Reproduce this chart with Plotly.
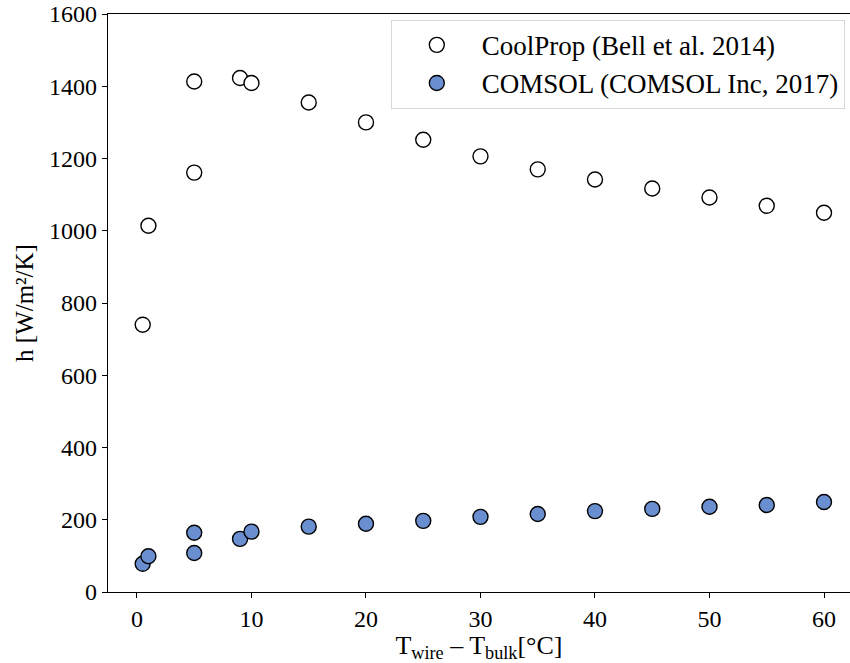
import plotly.graph_objects as go

dT = [0.5, 1, 5, 5, 9, 10, 15, 20, 25, 30, 35, 40, 45, 50, 55, 60]
h_coolprop = [740, 1014, 1161, 1413, 1423, 1409, 1355, 1300, 1252, 1206, 1170, 1142, 1117, 1092, 1069, 1050]
h_comsol = [78, 99, 164, 108, 147, 167, 181, 189, 197, 208, 216, 224, 230, 236, 241, 249]

x_ticks = [0, 10, 20, 30, 40, 50, 60]
y_ticks = [0, 200, 400, 600, 800, 1000, 1200, 1400, 1600]

FONT = "Liberation Serif, Times New Roman, serif"

fig = go.Figure()
fig.add_trace(go.Scatter(
    x=dT, y=h_coolprop, mode="markers", name="CoolProp (Bell et al. 2014)",
    marker=dict(size=15, color="white", line=dict(color="black", width=1.4)),
))
fig.add_trace(go.Scatter(
    x=dT, y=h_comsol, mode="markers", name="COMSOL (COMSOL Inc, 2017)",
    marker=dict(size=15, color="#6a8fd0", line=dict(color="black", width=1.4)),
))

fig.update_layout(
    width=850, height=663,
    margin=dict(l=108, r=0, t=14, b=71),
    plot_bgcolor="white", paper_bgcolor="white",
    font=dict(family=FONT, size=24, color="black"),
    showlegend=True,
    legend=dict(
        x=0.993, y=0.99, xanchor="right", yanchor="top",
        bgcolor="white", bordercolor="#d8d8d8", borderwidth=1,
        font=dict(size=27, family=FONT),
        itemwidth=80,
    ),
    xaxis=dict(
        range=[-2.53, 62.27], tickvals=x_ticks, ticktext=[str(v) for v in x_ticks],
        showgrid=False, zeroline=False, showline=True, linecolor="black", linewidth=1.2,
        mirror=True, ticks="outside", ticklen=5, tickwidth=1, tickcolor="black",
        tickfont=dict(size=24),
        title=dict(text="T<sub>wire</sub> – T<sub>bulk</sub>[°C]", standoff=2, font=dict(size=26)),
    ),
    yaxis=dict(
        range=[0, 1600], tickvals=y_ticks, ticktext=[str(v) for v in y_ticks],
        showgrid=False, zeroline=False, showline=True, linecolor="black", linewidth=1.2,
        mirror=False, ticks="outside", ticklen=5, tickwidth=1, tickcolor="black",
        tickfont=dict(size=24),
        title=dict(text="h [W/m²/K]", standoff=8, font=dict(size=25)),
    ),
)

fig.write_html("out.html")
